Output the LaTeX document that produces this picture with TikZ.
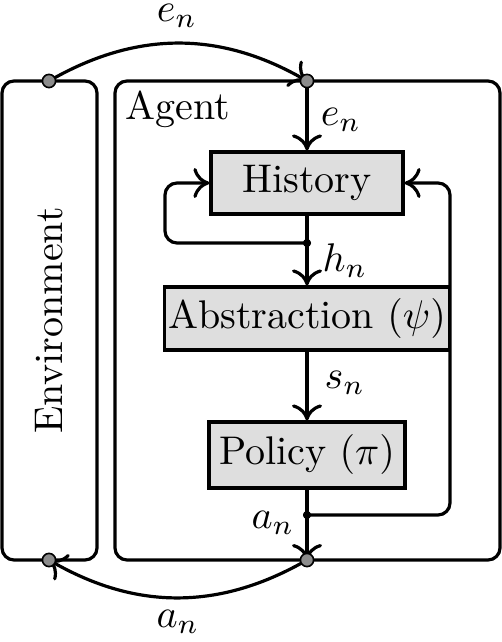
\documentclass[tikz,border=0pt]{standalone}
\usetikzlibrary{arrows.meta}
\begin{document}
\begin{tikzpicture}[x=0.25pt,y=0.25pt,
  panel/.style={draw,line width=0.8pt,rounded corners=3pt,inner sep=0pt},
  block/.style={draw,line width=0.8pt,fill=black!13,inner sep=0pt,font=\fontsize{10}{12}\selectfont},
  bigdot/.style={circle,draw,line width=0.4pt,fill=black!45,inner sep=0pt,minimum size=3.3pt},
  junct/.style={circle,fill=black,inner sep=0pt,minimum size=2pt},
  conn/.style={line width=0.8pt,-{Computer Modern Rightarrow[length=4pt,width=7.5pt]}},
  lbl/.style={inner sep=0pt,font=\fontsize{10}{12}\selectfont}]
\useasboundingbox (0,0) rectangle (502,642);
% panels
\node[panel,minimum width=23.75pt,minimum height=119.75pt] (env) at (49.5,321.5) {};
\node[lbl,rotate=90] (envlbl) at (env.center) {Environment};
\node[panel,minimum width=96.25pt,minimum height=119.75pt] (agent) at (307.5,321.5) {};
\node[lbl,anchor=north west] (agentlbl) at (125,552) {Agent};
% blocks
\node[block,minimum width=48pt,minimum height=15.5pt] (hist) at (307,459) {History};
\node[block,minimum width=71.25pt,minimum height=15.75pt] (abs) at (307,323.5) {Abstraction $(\psi)$};
\node[block,minimum width=49pt,minimum height=16.5pt] (pol) at (307,187) {Policy $(\pi)$};
% dots and junctions
\coordinate (etc) at (49,561);
\coordinate (atc) at (307,561);
\coordinate (abc) at (307,82);
\coordinate (ebc) at (49,82);
\node[junct] (jh) at (307,399) {};
\node[junct] (ja) at (307,127) {};
\coordinate (lc1) at (165,399);
\coordinate (lc2) at (165,459);
\coordinate (rc1) at (450,127);
\coordinate (rc2) at (450,459);
% connectors
\draw[conn] (etc) to[out=30,in=150] (atc);
\draw[conn] (atc) -- (hist.north);
\draw[conn] (hist.south) -- (abs.north);
\draw[conn,rounded corners=3pt] (jh.center) -- (lc1) -- (lc2) -- (hist.west);
\draw[conn] (abs.south) -- (pol.north);
\draw[conn] (pol.south) -- (abc);
\draw[conn,rounded corners=3pt] (ja.center) -- (rc1) -- (rc2) -- (hist.east);
\draw[conn] (abc) to[out=-150,in=-30] (ebc);
% redraw dots on top
\node[junct] at (jh) {};
\node[junct] at (ja) {};
\node[bigdot] (et) at (etc) {};
\node[bigdot] (at) at (atc) {};
\node[bigdot] (ab) at (abc) {};
\node[bigdot] (eb) at (ebc) {};
% labels
\node[lbl] (l1) at (177,626) {$e_n$};
\node[lbl] (l2) at (341,522) {$e_n$};
\node[lbl] (l3) at (345,381) {$h_n$};
\node[lbl] (l4) at (345,259) {$s_n$};
\node[lbl] (l5) at (273,119) {$a_n$};
\node[lbl] (l6) at (178,20) {$a_n$};
\end{tikzpicture}
\end{document}
